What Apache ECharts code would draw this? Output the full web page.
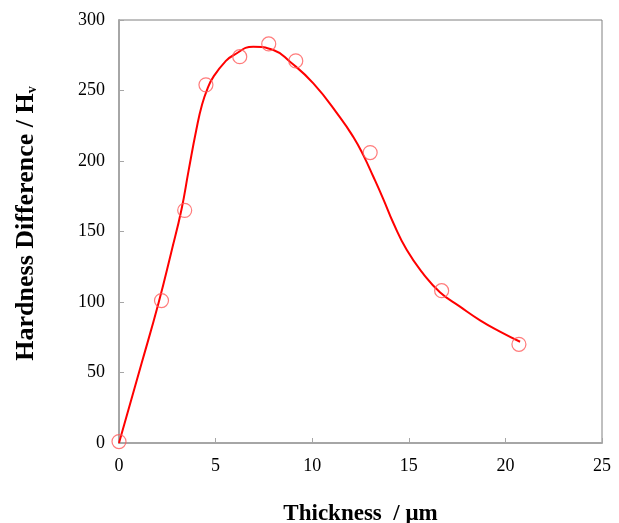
<!DOCTYPE html>
<html>
<head>
<meta charset="utf-8">
<script src="https://cdn.jsdelivr.net/npm/echarts@6/dist/echarts.min.js"></script>
<style>
  html, body { margin: 0; padding: 0; background: #fff; }
  #chart { width: 619px; height: 523px; }
</style>
</head>
<body>
<div id="chart"></div>
<script>
  // measured points
  const thickness = [0, 2.2, 3.4, 4.5, 6.25, 7.75, 9.15, 13.0, 16.7, 20.7]
  const hardness = [1, 101, 165, 254, 274, 283, 271, 206, 108, 70]

  // fitted curve
  const curveX = [0, 1.17, 2.04, 2.7, 3.24, 3.6, 4.0, 4.3, 4.6, 4.9, 5.5, 5.92, 6.95, 7.99, 8.85, 10.06, 11.44, 12.13, 12.65, 13.16, 13.68, 14.2, 14.89, 15.75, 16.61, 17.65, 18.69, 19.72, 20.76]
  const curveY = [0, 56.5, 99, 135, 166, 193, 222, 240, 252, 260, 270.5, 275, 281, 278.7, 270.4, 255, 231, 217, 204, 189, 173, 156, 137, 120, 107, 96.7, 87, 79, 71.8]

  const xTicks = [0, 5, 10, 15, 20, 25]
  const yTicks = [0, 50, 100, 150, 200, 250, 300]

  const font = '"Liberation Serif", "Times New Roman", serif'
  const chart = echarts.init(document.getElementById('chart'))

  let option = {
    animation: false,
    backgroundColor: '#fff',
    grid: {
      left: 119,
      right: 17,
      top: 20,
      bottom: 80,
      outerBoundsMode: 'none',
      containLabel: false,
      show: true,
      borderColor: '#808080',
      borderWidth: 1
    },
    xAxis: {
      type: 'value',
      min: xTicks[0],
      max: xTicks[xTicks.length - 1],
      interval: 5,
      name: 'Thickness  / μm',
      nameLocation: 'middle',
      nameGap: 60,
      nameTextStyle: {fontFamily: font, fontSize: 23, fontWeight: 'bold', color: '#000'},
      axisLine: {lineStyle: {color: '#a6a6a6', width: 2}},
      axisTick: {inside: true, length: 5, lineStyle: {color: '#a6a6a6'}},
      axisLabel: {fontFamily: font, fontSize: 18, color: '#000', margin: 14},
      splitLine: {show: false}
    },
    yAxis: {
      type: 'value',
      min: yTicks[0],
      max: yTicks[yTicks.length - 1],
      interval: 50,
      name: 'Hardness Difference / H{sub|v}',
      nameLocation: 'middle',
      nameGap: 80,
      nameTextStyle: {
        fontFamily: font, fontSize: 26, fontWeight: 'bold', color: '#000',
        padding: [0, 0, 0, 16],
        rich: {
          sub: {fontFamily: font, fontSize: 14, fontWeight: 'bold', color: '#000', verticalAlign: 'bottom', padding: [12, 0, 0, 0]}
        }
      },
      axisLine: {lineStyle: {color: '#a6a6a6', width: 2}},
      axisTick: {inside: true, length: 5, lineStyle: {color: '#a6a6a6'}},
      axisLabel: {fontFamily: font, fontSize: 18, color: '#000', margin: 14},
      splitLine: {show: false}
    },
    series: [
      {
        name: 'fit',
        type: 'line',
        smooth: 0.5,
        showSymbol: false,
        data: curveX.map((x, i) => [x, curveY[i]]),
        lineStyle: {color: '#ff0000', width: 2},
        z: 2
      },
      {
        name: 'data',
        type: 'scatter',
        symbol: 'circle',
        symbolSize: 14,
        data: thickness.map((x, i) => [x, hardness[i]]),
        itemStyle: {color: 'rgba(0,0,0,0)', borderColor: '#ff5a5a', borderWidth: 1.2},
        z: 3
      }
    ]
  }
  chart.setOption(option)
</script>
</body>
</html>
